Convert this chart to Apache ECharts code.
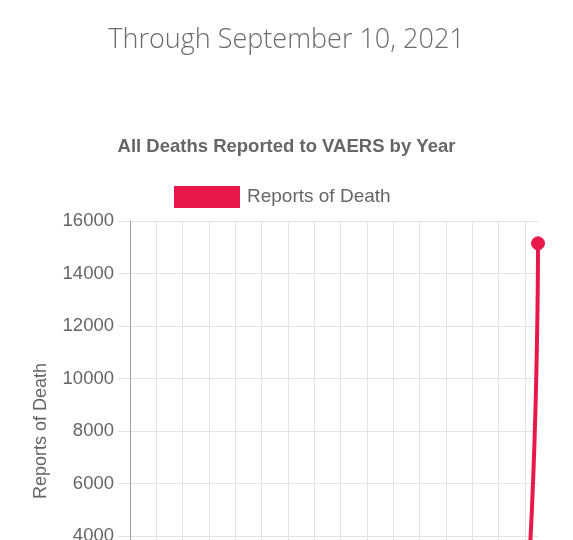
<!DOCTYPE html>
<html>
<head>
<meta charset="utf-8">
<script src="https://cdn.jsdelivr.net/npm/echarts@6/dist/echarts.min.js"></script>
<style>
  html, body { margin: 0; padding: 0; background: #fff; overflow: hidden; }
  #chart { width: 573px; height: 760px; }
</style>
</head>
<body>
<div id="chart"></div>
<script>
const years = ['1990','1991','1992','1993','1994','1995','1996','1997','1998','1999',
  '2000','2001','2002','2003','2004','2005','2006','2007','2008','2009',
  '2010','2011','2012','2013','2014','2015','2016','2017','2018','2019','2020','2021'];
const deaths = [135, 296, 253, 200, 163, 141, 151, 133, 131, 158,
  192, 197, 179, 219, 198, 169, 193, 249, 228, 366,
  274, 210, 231, 219, 213, 273, 249, 233, 315, 315, 555, 15150];
const yTicks = { min: 0, max: 16000, interval: 2000 };
const headline = 'Through September 10, 2021';
const chartTitle = 'All Deaths Reported to VAERS by Year';
const seriesName = 'Reports of Death';

const red = '#e8194a';
const chart = echarts.init(document.getElementById('chart'), null, { renderer: 'canvas' });
chart.setOption({
  animation: false,
  title: [
    { text: headline, left: 'center', top: 22,
      textStyle: { fontFamily: 'Open Sans', fontWeight: 300, fontSize: 27, color: '#6c6c6c' } },
    { text: chartTitle, left: 'center', top: 132,
      textStyle: { fontFamily: 'Liberation Sans', fontWeight: 'bold', fontSize: 18.5, color: '#666' } }
  ],
  legend: {
    data: [seriesName], top: 181, left: 169,
    icon: 'rect', itemWidth: 66, itemHeight: 22,
    itemStyle: { color: red },
    textStyle: { fontFamily: 'Liberation Sans', fontSize: 19, color: '#666', padding: [0, 0, 0, 2] }
  },
  grid: { left: 130, top: 221, width: 408, height: 420, containLabel: false },
  xAxis: {
    type: 'category', data: years, boundaryGap: false,
    axisLine: { lineStyle: { color: '#999' } },
    axisTick: { show: false },
    axisLabel: { interval: 1, rotate: 90, color: '#666', fontSize: 16, fontFamily: 'Liberation Sans' },
    splitLine: { show: true, interval: 1, lineStyle: { color: '#e3e3e3', width: 1 } }
  },
  yAxis: {
    type: 'value', min: yTicks.min, max: yTicks.max, interval: yTicks.interval,
    name: seriesName, nameLocation: 'middle', nameGap: 80,
    nameTextStyle: { fontFamily: 'Liberation Sans', fontSize: 18, color: '#666' },
    axisLine: { show: true, lineStyle: { color: '#a0a0a0', width: 1 } },
    axisTick: { show: true, length: 12, lineStyle: { color: '#e3e3e3' } },
    axisLabel: { margin: 16, color: '#666', fontSize: 18.5, fontFamily: 'Liberation Sans',
      formatter: v => String(v) },
    splitLine: { show: true, lineStyle: { color: '#e3e3e3', width: 1 } }
  },
  series: [{
    name: seriesName, type: 'line', data: deaths,
    smooth: 0.8, symbol: 'circle', symbolSize: 13, showSymbol: true, showAllSymbol: true,
    clip: false,
    lineStyle: { color: red, width: 4 },
    itemStyle: { color: red, borderColor: red }
  }]
});
</script>
</body>
</html>
